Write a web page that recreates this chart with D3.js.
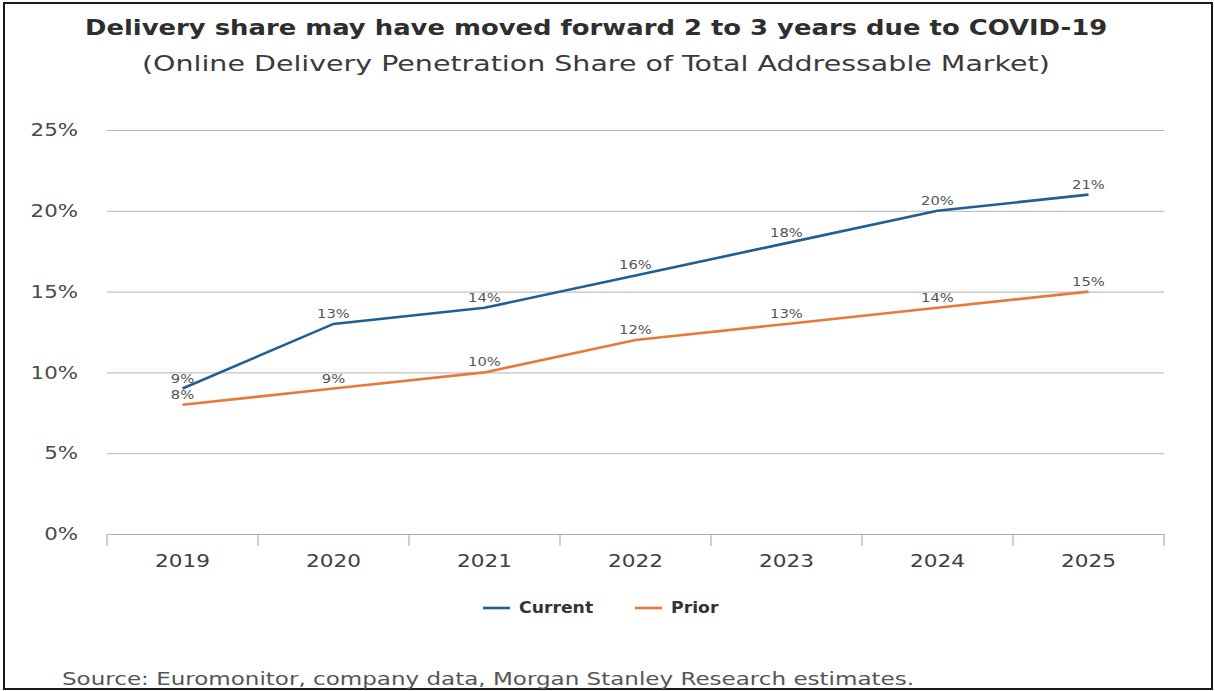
<!DOCTYPE html>
<html>
<head>
<meta charset="utf-8">
<script src="https://cdn.jsdelivr.net/npm/d3@7"></script>
<style>
  html, body { margin: 0; padding: 0; background: #fff; }
  svg { display: block; }
  text { font-family: "DejaVu Sans", sans-serif; }
</style>
</head>
<body>
<svg id="chart" width="1215" height="691"></svg>
<script>
// Online delivery penetration, share of total addressable market (%)
const years = ["2019", "2020", "2021", "2022", "2023", "2024", "2025"];
const currentShare = [9, 13, 14, 16, 18, 20, 21];
const priorShare = [8, 9, 10, 12, 13, 14, 15];
const yTicks = [0, 5, 10, 15, 20, 25];
const seriesNames = ["Current", "Prior"];
const seriesColors = ["#1f5f93", "#e8783b"];

const titleText = "Delivery share may have moved forward 2 to 3 years due to COVID-19";
const subtitleText = "(Online Delivery Penetration Share of Total Addressable Market)";
const sourceText = "Source: Euromonitor, company data, Morgan Stanley Research estimates.";

const W = 1215, H = 691;
const WIDE = 1.18; // horizontal stretch giving the wide letterforms
const svg = d3.select("#chart");

// widen text horizontally around its own x anchor
function widen(sel, s) {
  sel.each(function () {
    const t = d3.select(this);
    const ax = +t.attr("x") || 0;
    t.attr("transform", `translate(${ax},0) scale(${s},1) translate(${-ax},0)`);
  });
}
// widen a single text so it runs exactly `target` pixels
function fitWidth(t, target) {
  const w = t.node().getComputedTextLength();
  widen(t, target / w);
}

// outer frame
svg.append("rect")
  .attr("x", 4).attr("y", 3)
  .attr("width", W - 7).attr("height", H - 5)
  .attr("fill", "#fff")
  .attr("stroke", "#1a1a1a")
  .attr("stroke-width", 2);

const plot = { left: 107, right: 1164, top: 130, bottom: 534 };

const x = d3.scaleBand().domain(years).range([plot.left, plot.right]).padding(0);
const y = d3.scaleLinear().domain([0, 25]).range([plot.bottom, plot.top]);

// titles
const title = svg.append("text")
  .attr("x", 85).attr("y", 35)
  .attr("font-size", 22)
  .attr("font-weight", "bold")
  .attr("fill", "#2e2e2e")
  .text(titleText);
fitWidth(title, 1023);

const subtitle = svg.append("text")
  .attr("x", 142).attr("y", 71)
  .attr("font-size", 22)
  .attr("fill", "#3a3a3a")
  .text(subtitleText);
fitWidth(subtitle, 908);

// horizontal gridlines (0% is the axis baseline)
const yAxis = d3.axisLeft(y)
  .tickValues(yTicks)
  .tickSize(-(plot.right - plot.left))
  .tickPadding(29)
  .tickFormat(d => d + "%");

const gy = svg.append("g")
  .attr("transform", `translate(${plot.left},0)`)
  .call(yAxis);
gy.select(".domain").remove();
gy.selectAll(".tick line")
  .attr("stroke", d => d === 0 ? "none" : "#b3b3b3")
  .attr("stroke-width", 1);
gy.selectAll(".tick text")
  .attr("font-size", 17.5)
  .attr("fill", "#4a4a4a")
  .attr("font-family", "DejaVu Sans, sans-serif")
  .call(widen, 1.22);

// x axis with ticks at band boundaries
const gx = svg.append("g")
  .attr("transform", `translate(0,${plot.bottom})`)
  .call(d3.axisBottom(x).tickSize(0).tickPadding(20));
gx.select(".domain").attr("stroke", "#a9b0b8").attr("stroke-width", 1.2);
gx.selectAll(".tick text")
  .attr("font-size", 18)
  .attr("fill", "#3f3f3f")
  .attr("font-family", "DejaVu Sans, sans-serif")
  .call(widen, 1.2);

const boundaries = years.map(d => x(d)).concat([x(years[years.length - 1]) + x.bandwidth()]);
svg.append("g").selectAll("line")
  .data(boundaries)
  .join("line")
  .attr("x1", d => d).attr("x2", d => d)
  .attr("y1", plot.bottom).attr("y2", plot.bottom + 12)
  .attr("stroke", "#a9b0b8")
  .attr("stroke-width", 1.2);

// series lines and value labels
const seriesData = [currentShare, priorShare];
const line = d3.line()
  .x((d, i) => x(years[i]) + x.bandwidth() / 2)
  .y(d => y(d));

seriesData.forEach((vals, s) => {
  svg.append("path")
    .datum(vals)
    .attr("fill", "none")
    .attr("stroke", seriesColors[s])
    .attr("stroke-width", 2.6)
    .attr("d", line);

  svg.append("g").selectAll("text")
    .data(vals)
    .join("text")
    .attr("x", (d, i) => x(years[i]) + x.bandwidth() / 2)
    .attr("y", d => y(d) - 6)
    .attr("text-anchor", "middle")
    .attr("font-size", 12.5)
    .attr("fill", "#555")
    .text(d => d + "%")
    .call(widen, WIDE);
});

// legend
const legendItems = [
  { name: seriesNames[0], color: seriesColors[0], x: 483 },
  { name: seriesNames[1], color: seriesColors[1], x: 635 }
];
const lg = svg.append("g");
legendItems.forEach(it => {
  lg.append("line")
    .attr("x1", it.x).attr("x2", it.x + 27)
    .attr("y1", 608).attr("y2", 608)
    .attr("stroke", it.color)
    .attr("stroke-width", 2.6);
  lg.append("text")
    .attr("x", it.x + 36).attr("y", 613)
    .attr("font-size", 15)
    .attr("font-weight", "bold")
    .attr("fill", "#333")
    .text(it.name)
    .call(widen, 1.15);
});

// source note
const source = svg.append("text")
  .attr("x", 62).attr("y", 685)
  .attr("font-size", 18)
  .attr("fill", "#555")
  .text(sourceText);
fitWidth(source, 853);
</script>
</body>
</html>
